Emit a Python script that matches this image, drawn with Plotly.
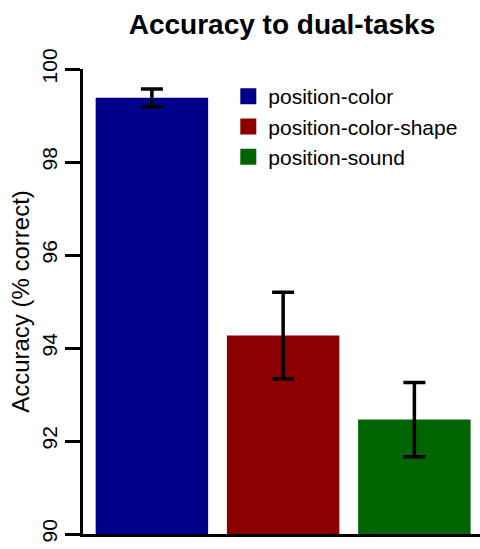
import plotly.graph_objects as go

categories = ["position-color", "position-color-shape", "position-sound"]
means = [99.38, 94.27, 92.46]
errors = [0.19, 0.93, 0.80]
colors = ["#00008B", "#8B0000", "#006400"]
y_ticks = [90, 92, 94, 96, 98, 100]

fig = go.Figure()
fig.add_trace(go.Bar(
    x=list(range(len(categories))),
    y=means,
    width=0.857,
    marker=dict(color=colors, line=dict(width=0)),
    error_y=dict(type="data", array=errors, color="black", thickness=3.5, width=11),
    showlegend=False,
))
for name, c in zip(categories, colors):
    fig.add_trace(go.Scatter(
        x=[None], y=[None], mode="markers", name=name,
        marker=dict(symbol="square", size=16, color=c),
    ))

font_family = "Liberation Sans, Arial, sans-serif"
fig.update_layout(
    width=480, height=549,
    margin=dict(l=83, r=0, t=69, b=15),
    paper_bgcolor="white", plot_bgcolor="white",
    font=dict(family=font_family, color="black"),
    title=dict(text="<b>Accuracy to dual-tasks</b>", x=0.5875, xanchor="center",
               y=0.956, yanchor="middle", font=dict(size=28, family=font_family, color="black")),
    legend=dict(x=0.366, y=0.985, xanchor="left", yanchor="top",
                font=dict(size=21), bgcolor="rgba(0,0,0,0)",
                itemwidth=30, tracegroupgap=0),
    showlegend=True,
)
fig.update_xaxes(range=[-0.525, 2.5], showline=True, linecolor="black", linewidth=3,
                 showticklabels=False, ticks="", showgrid=False, zeroline=False)
fig.update_yaxes(range=[90, 100], tickvals=y_ticks, ticktext=[str(v) for v in y_ticks],
                 showline=True, linecolor="black", linewidth=3,
                 ticks="outside", ticklen=15, tickwidth=3, tickcolor="black",
                 tickangle=-90, tickfont=dict(size=21),
                 title=dict(text="Accuracy (% correct)", font=dict(size=24), standoff=2),
                 showgrid=False, zeroline=False)

fig.write_html("out.html")
